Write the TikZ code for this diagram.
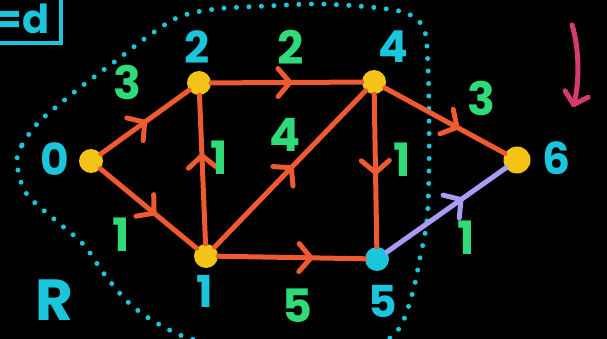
\documentclass[tikz,border=0pt]{standalone}
\usepackage{fontspec}
\setmainfont{Poppins}
\usetikzlibrary{arrows.meta, decorations.markings}
\definecolor{vyel}{HTML}{F2C417}
\definecolor{vcyan}{HTML}{19C6DC}
\definecolor{vorange}{HTML}{F05A30}
\definecolor{vgreen}{HTML}{2EDB78}
\definecolor{vlav}{HTML}{A99CF7}
\definecolor{vpink}{HTML}{D43A74}
\tikzset{
  vtx/.style   = {circle, fill=vyel, minimum size=24pt, inner sep=0pt},
  srcv/.style  = {vtx, fill=vcyan},
  vname/.style = {text=vcyan, inner sep=0pt, font=\fontsize{44}{44}\selectfont\bfseries},
  wt/.style    = {text=vgreen, inner sep=0pt, font=\fontsize{46}{46}\selectfont\bfseries},
  road/.style  = {draw=vorange, line width=5pt, line cap=round},
  cut/.style   = {road, draw=vlav},
  mid/.style   = {postaction={decorate}, decoration={markings,
                  mark=at position #1 with {\arrow{Straight Barb[length=12pt,width=28pt,round]}}}},
  bound/.style = {draw=vcyan, line width=5pt, line cap=round, dash pattern=on 0pt off 12.5pt},
  tag/.style   = {draw=vcyan, line width=4pt, text=vcyan, inner xsep=11pt, inner ysep=10pt,
                  text depth=0pt, font=\fontsize{40}{40}\selectfont\bfseries}
}

\begin{document}
\begin{tikzpicture}[x=1pt, y=-1pt]
\useasboundingbox (0,0) rectangle (607,339);
\clip (0,0) rectangle (607,339);
\fill[black] (0,0) rectangle (607,339);
%% ===== region R =====
\draw[bound] plot[smooth cycle, tension=0.55] coordinates {
  (17,163) (22,145) (37,124) (56,107) (86,83) (117,60) (147,37) (179,17)
  (216,9) (267,6) (318,4) (369,7) (406,13) (424,29) (428,67) (429,118)
  (429,169) (427,220) (420,258) (412,295) (398,330) (370,346) (290,352)
  (200,341) (162,326) (130,304) (105,275) (83,244) (54,219) (26,193)};
\node[vname, font=\fontsize{58}{58}\selectfont\bfseries] (rlab) at (54,300) {R};
\node[tag, anchor=south east] (vd) at (63,45.5) {v=d};
%% ===== vertices =====
\node[vtx] (v0) at (91,161) {};
\node[vtx] (v2) at (199,83) {};
\node[vtx] (v4) at (374,82) {};
\node[vtx, minimum size=27pt] (v6) at (517,160) {};
\node[vtx] (v1) at (206,256) {};
\node[srcv] (v5) at (377,259) {};
% vertex names
\node[vname] (n0) at (55,159) {0};
\node[vname] (n2) at (197,47) {2};
\node[vname] (n4) at (393,47) {4};
\node[vname] (n6) at (557,158) {6};
\node[vname] (n1) at (205,291) {1};
\node[vname] (n5) at (383,301) {5};
%% ===== edges =====
\draw[road, mid=0.52] (v0) -- (v2);
\draw[road, mid=0.58] (v0) -- (v1);
\draw[road, mid=0.61] (v1) -- (v2);
\draw[road, mid=0.54] (v2) -- (v4);
\draw[road, mid=0.52] (v1) -- (v4);
\draw[road, mid=0.53] (v4) -- (v5);
\draw[road, mid=0.65] (v1) -- (v5);
\draw[road, mid=0.62] (v4) -- (v6);
\draw[cut, mid=0.64] (v5) -- (v6);
% weights
\node[wt] (w02) at (127,82) {3};
\node[wt] (w01) at (121,235) {1};
\node[wt] (w12) at (219,158) {1};
\node[wt] (w24) at (291,47) {2};
\node[wt] (w14) at (285,135) {4};
\node[wt] (w45) at (402,160) {1};
\node[wt] (w15) at (297,306) {5};
\node[wt] (w46) at (481,98) {3};
\node[wt] (w56) at (466,238) {1};
%% ===== pink arrow =====
\coordinate (pa) at (572,25);
\coordinate (pb) at (573,107);
\draw[draw=vpink, line width=5pt, line cap=round,
      -{Straight Barb[length=11pt,width=24pt,round]}]
  (pa) .. controls (580,50) and (579,85) .. (pb);
\end{tikzpicture}
\end{document}
